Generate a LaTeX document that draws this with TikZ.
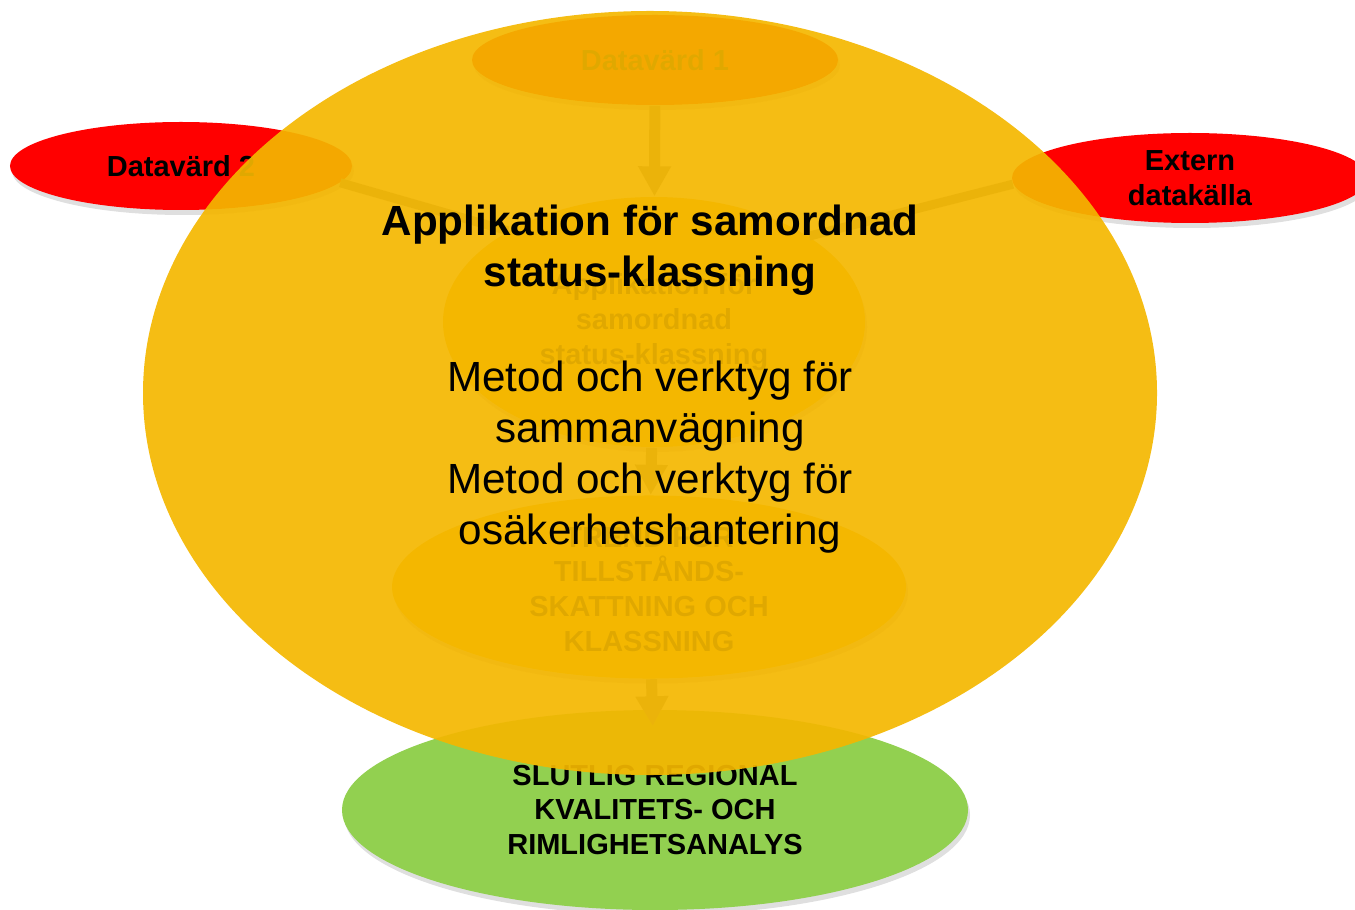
\documentclass[tikz,border=0pt]{standalone}
\usepackage{fontspec}
\setmainfont{Liberation Sans}
\usetikzlibrary{shapes.geometric,arrows.meta,shadows}
\definecolor{hostred}{RGB}{255,0,0}
\definecolor{appgold}{RGB}{255,192,0}
\definecolor{endgreen}{RGB}{146,208,80}
\definecolor{veilgold}{RGB}{244,183,0}
\definecolor{flowgray}{RGB}{140,140,140}

\begin{document}
\begin{tikzpicture}[
    blob/.style={ellipse, inner sep=0pt, align=center,
        font=\fontsize{8.25}{9.9}\selectfont\bfseries,
        drop shadow={opacity=0.25, shadow xshift=0.02cm, shadow yshift=-0.05cm}},
    flow/.style={draw=flowgray, line width=0.11cm, -{Triangle[width=0.31cm,length=0.3cm]}},
    link/.style={draw=flowgray, line width=0.09cm}
]
    \useasboundingbox (0,0) rectangle (13.55,9.09);

    % the process underneath
    \node[blob, fill=hostred, minimum width=3.66cm, minimum height=0.9cm] (dv1) at (6.55,8.49) {Datavärd 1};
    \node[blob, fill=hostred, minimum width=3.42cm, minimum height=0.88cm] (dv2) at (1.81,7.43) {Datavärd 2};
    \node[blob, fill=hostred, minimum width=3.56cm, minimum height=0.9cm] (ext) at (11.90,7.31) {Extern\\datakälla};
    \node[blob, fill=appgold, minimum width=4.22cm, minimum height=2.5cm] (app) at (6.54,5.87) {Applikation för\\samordnad\\status-klassning};
    \node[blob, fill=appgold, minimum width=5.14cm, minimum height=1.68cm] (till) at (6.49,3.22) {TREND FÖR\\TILLSTÅNDS-\\SKATTNING OCH\\KLASSNING};
    \node[blob, fill=endgreen, minimum width=6.26cm, minimum height=2.0cm] (slut) at (6.55,0.99) {SLUTLIG REGIONAL\\KVALITETS- OCH\\RIMLIGHETSANALYS};

    \draw[flow] (dv1) -- (app);
    \draw[link] (dv2.-6) -- (app.148);
    \draw[link] (ext.182) -- (app.29);
    \draw[flow] (app) -- (till);
    \draw[flow, shorten >=-0.17cm] (till) -- (slut);

    % the veil on top
    \fill[veilgold, opacity=0.92] (6.50,5.16) ellipse[x radius=5.07cm, y radius=3.82cm];
    \node[align=center, font=\fontsize{12}{14.5}\selectfont\bfseries] (title) at (6.50,6.59) {Applikation för samordnad\\status-klassning};
    \node[align=center, font=\fontsize{12}{14.5}\selectfont] (method) at (6.50,4.52) {Metod och verktyg för\\sammanvägning\\Metod och verktyg för\\osäkerhetshantering};
\end{tikzpicture}
\end{document}
